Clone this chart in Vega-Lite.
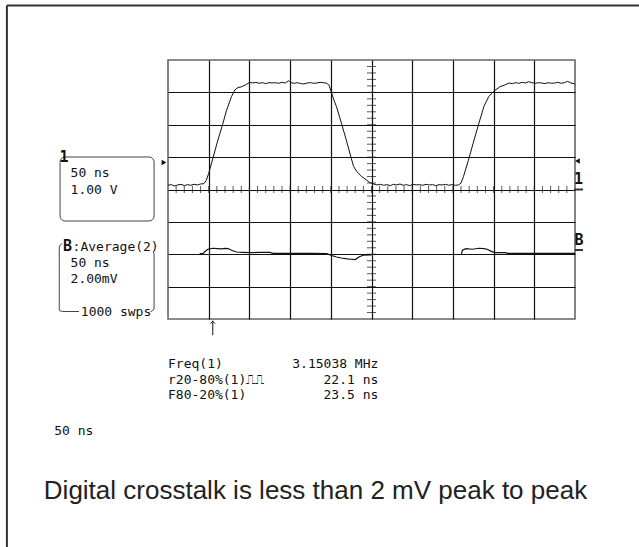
{
  "$schema": "https://vega.github.io/schema/vega-lite/v6.json",
  "width": 407,
  "height": 259,
  "autosize": {"type": "none"},
  "padding": {"left": 168, "top": 60, "right": 64, "bottom": 228},
  "background": "white",
  "config": {
    "view": {"stroke": "#666", "strokeWidth": 1.6},
    "text": {"font": "DejaVu Sans Mono", "fontSize": 13, "fill": "#111"}
  },
  "datasets": {
    "ch1": [
      {"t": -250, "v": 0.13}, {"t": -246, "v": 0.15}, {"t": -242, "v": 0.11}, {"t": -238, "v": 0.14},
      {"t": -234, "v": 0.16}, {"t": -230, "v": 0.12}, {"t": -226, "v": 0.15}, {"t": -222, "v": 0.13},
      {"t": -218, "v": 0.16}, {"t": -214, "v": 0.14}, {"t": -210, "v": 0.17}, {"t": -206, "v": 0.18},
      {"t": -203, "v": 0.28}, {"t": -200, "v": 0.5}, {"t": -195, "v": 0.95}, {"t": -189, "v": 1.5},
      {"t": -183, "v": 2.0}, {"t": -178, "v": 2.45}, {"t": -172, "v": 2.87}, {"t": -168, "v": 3.07},
      {"t": -164, "v": 3.15}, {"t": -160, "v": 3.17}, {"t": -154, "v": 3.24}, {"t": -150, "v": 3.31},
      {"t": -146, "v": 3.29}, {"t": -142, "v": 3.31}, {"t": -138, "v": 3.28}, {"t": -134, "v": 3.3},
      {"t": -130, "v": 3.27}, {"t": -126, "v": 3.3}, {"t": -122, "v": 3.29}, {"t": -118, "v": 3.3},
      {"t": -114, "v": 3.28}, {"t": -110, "v": 3.31}, {"t": -106, "v": 3.29}, {"t": -102, "v": 3.36},
      {"t": -99, "v": 3.3}, {"t": -95, "v": 3.28}, {"t": -91, "v": 3.3}, {"t": -87, "v": 3.27},
      {"t": -83, "v": 3.26}, {"t": -79, "v": 3.29}, {"t": -75, "v": 3.3}, {"t": -71, "v": 3.28},
      {"t": -67, "v": 3.29}, {"t": -63, "v": 3.31}, {"t": -59, "v": 3.3}, {"t": -55, "v": 3.28},
      {"t": -52, "v": 3.22}, {"t": -50, "v": 3.05}, {"t": -46, "v": 2.75}, {"t": -43, "v": 2.56},
      {"t": -37, "v": 2.05}, {"t": -31, "v": 1.53}, {"t": -26, "v": 1.07}, {"t": -22, "v": 0.71},
      {"t": -18, "v": 0.55}, {"t": -12, "v": 0.4}, {"t": -6, "v": 0.29}, {"t": -2, "v": 0.21},
      {"t": 3, "v": 0.17}, {"t": 7, "v": 0.14}, {"t": 11, "v": 0.16}, {"t": 15, "v": 0.13},
      {"t": 19, "v": 0.15}, {"t": 23, "v": 0.12}, {"t": 27, "v": 0.16}, {"t": 31, "v": 0.14},
      {"t": 35, "v": 0.17}, {"t": 39, "v": 0.13}, {"t": 43, "v": 0.15}, {"t": 47, "v": 0.12},
      {"t": 51, "v": 0.16}, {"t": 55, "v": 0.14}, {"t": 59, "v": 0.15}, {"t": 63, "v": 0.13},
      {"t": 67, "v": 0.16}, {"t": 71, "v": 0.14}, {"t": 75, "v": 0.15}, {"t": 79, "v": 0.12},
      {"t": 83, "v": 0.15}, {"t": 87, "v": 0.14}, {"t": 91, "v": 0.16}, {"t": 95, "v": 0.13},
      {"t": 99, "v": 0.15}, {"t": 103, "v": 0.13}, {"t": 107, "v": 0.14}, {"t": 110, "v": 0.2},
      {"t": 113, "v": 0.4}, {"t": 119, "v": 0.9}, {"t": 126, "v": 1.53}, {"t": 132, "v": 2.05},
      {"t": 138, "v": 2.56}, {"t": 144, "v": 2.87}, {"t": 150, "v": 3.03}, {"t": 158, "v": 3.18},
      {"t": 163, "v": 3.22}, {"t": 169, "v": 3.29}, {"t": 173, "v": 3.27}, {"t": 177, "v": 3.3},
      {"t": 181, "v": 3.28}, {"t": 185, "v": 3.31}, {"t": 189, "v": 3.29}, {"t": 193, "v": 3.33},
      {"t": 197, "v": 3.3}, {"t": 201, "v": 3.28}, {"t": 205, "v": 3.3}, {"t": 209, "v": 3.29},
      {"t": 213, "v": 3.27}, {"t": 217, "v": 3.3}, {"t": 221, "v": 3.28}, {"t": 225, "v": 3.29},
      {"t": 229, "v": 3.31}, {"t": 233, "v": 3.28}, {"t": 237, "v": 3.3}, {"t": 241, "v": 3.34},
      {"t": 245, "v": 3.29}, {"t": 249, "v": 3.27}, {"t": 250, "v": 3.24}
    ],
    "chB": [
      {"t": -211, "mv": 0.04, "seg": "a"}, {"t": -207, "mv": 0.05, "seg": "a"}, {"t": -204.5, "mv": 0.17, "seg": "a"},
      {"t": -201, "mv": 0.31, "seg": "a"}, {"t": -195, "mv": 0.37, "seg": "a"}, {"t": -189, "mv": 0.35, "seg": "a"},
      {"t": -184, "mv": 0.33, "seg": "a"}, {"t": -180, "mv": 0.36, "seg": "a"}, {"t": -176, "mv": 0.35, "seg": "a"},
      {"t": -172, "mv": 0.25, "seg": "a"}, {"t": -166, "mv": 0.14, "seg": "a"}, {"t": -158, "mv": 0.12, "seg": "a"},
      {"t": -149, "mv": 0.1, "seg": "a"}, {"t": -139, "mv": 0.11, "seg": "a"}, {"t": -129, "mv": 0.11, "seg": "a"},
      {"t": -125, "mv": 0.12, "seg": "a"}, {"t": -121, "mv": 0.06, "seg": "a"}, {"t": -100, "mv": 0.06, "seg": "a"},
      {"t": -75, "mv": 0.05, "seg": "a"}, {"t": -55, "mv": 0.04, "seg": "a"}, {"t": -50, "mv": -0.06, "seg": "a"},
      {"t": -43, "mv": -0.17, "seg": "a"}, {"t": -37, "mv": -0.23, "seg": "a"}, {"t": -30, "mv": -0.29, "seg": "a"},
      {"t": -25, "mv": -0.31, "seg": "a"}, {"t": -20, "mv": -0.33, "seg": "a"}, {"t": -15, "mv": -0.15, "seg": "a"},
      {"t": -10, "mv": -0.06, "seg": "a"}, {"t": 0, "mv": -0.04, "seg": "a"},
      {"t": 110.5, "mv": 0.02, "seg": "b"}, {"t": 111.7, "mv": 0.25, "seg": "b"}, {"t": 116, "mv": 0.35, "seg": "b"},
      {"t": 124, "mv": 0.31, "seg": "b"}, {"t": 132, "mv": 0.37, "seg": "b"}, {"t": 138, "mv": 0.35, "seg": "b"},
      {"t": 142, "mv": 0.31, "seg": "b"}, {"t": 148, "mv": 0.16, "seg": "b"}, {"t": 152, "mv": 0.1, "seg": "b"},
      {"t": 165, "mv": 0.1, "seg": "b"}, {"t": 167, "mv": 0.06, "seg": "b"}, {"t": 208, "mv": 0.05, "seg": "b"},
      {"t": 250, "mv": 0.05, "seg": "b"}
    ],
    "hticks": [
      {"t": -240}, {"t": -230}, {"t": -220}, {"t": -210}, {"t": -200}, {"t": -190}, {"t": -180}, {"t": -170},
      {"t": -160}, {"t": -150}, {"t": -140}, {"t": -130}, {"t": -120}, {"t": -110}, {"t": -100}, {"t": -90},
      {"t": -80}, {"t": -70}, {"t": -60}, {"t": -50}, {"t": -40}, {"t": -30}, {"t": -20}, {"t": -10},
      {"t": 0}, {"t": 10}, {"t": 20}, {"t": 30}, {"t": 40}, {"t": 50}, {"t": 60}, {"t": 70},
      {"t": 80}, {"t": 90}, {"t": 100}, {"t": 110}, {"t": 120}, {"t": 130}, {"t": 140}, {"t": 150},
      {"t": 160}, {"t": 170}, {"t": 180}, {"t": 190}, {"t": 200}, {"t": 210}, {"t": 220}, {"t": 230}, {"t": 240}
    ],
    "vticks": [
      {"v": -3.8}, {"v": -3.6}, {"v": -3.4}, {"v": -3.2}, {"v": -3.0}, {"v": -2.8}, {"v": -2.6}, {"v": -2.4},
      {"v": -2.2}, {"v": -2.0}, {"v": -1.8}, {"v": -1.6}, {"v": -1.4}, {"v": -1.2}, {"v": -1.0}, {"v": -0.8},
      {"v": -0.6}, {"v": -0.4}, {"v": -0.2}, {"v": 0.2}, {"v": 0.4}, {"v": 0.6}, {"v": 0.8}, {"v": 1.0},
      {"v": 1.2}, {"v": 1.4}, {"v": 1.6}, {"v": 1.8}, {"v": 2.0}, {"v": 2.2}, {"v": 2.4}, {"v": 2.6},
      {"v": 2.8}, {"v": 3.0}, {"v": 3.2}, {"v": 3.4}, {"v": 3.6}, {"v": 3.8}
    ],
    "scopeText": [
      {"t": -369.7, "v": 0.5, "text": "50 ns"},
      {"t": -369.7, "v": -0.01, "text": "1.00 V"},
      {"t": -367.2, "v": -1.78, "text": ":Average(2)"},
      {"t": -369.7, "v": -2.26, "text": "50 ns"},
      {"t": -369.7, "v": -2.77, "text": "2.00mV"},
      {"t": -357.1, "v": -3.77, "text": "1000 swps"},
      {"t": -250, "v": -5.38, "text": "Freq(1)"},
      {"t": -250, "v": -5.87, "text": "r20-80%(1)⎍⎍"},
      {"t": -250, "v": -6.35, "text": "F80-20%(1)"},
      {"t": -389.8, "v": -7.46, "text": "50 ns"}
    ],
    "valueText": [
      {"t": 8.4, "v": -5.38, "text": "3.15038 MHz"},
      {"t": 8.4, "v": -5.87, "text": "22.1 ns"},
      {"t": 8.4, "v": -6.35, "text": "23.5 ns"}
    ],
    "markers": [
      {"t": -377.8, "v": 1.0, "text": "1"},
      {"t": -373.5, "v": -1.75, "text": "B"},
      {"t": 254.3, "v": 0.32, "text": "1"},
      {"t": 254.9, "v": -1.56, "text": "B"}
    ],
    "rules": [
      {"t": -447.9, "v": 5.68, "t2": 329.1, "v2": 5.68},
      {"t": -447.9, "v": 5.68, "t2": -447.9, "v2": -11.04},
      {"t": 248.8, "v": 0, "t2": 259.8, "v2": 0},
      {"t": 250, "v": -1.87, "t2": 259.8, "v2": -1.87}
    ],
    "box2": [
      {"t": -379.9, "v": -1.668, "part": "left", "i": 1},
      {"t": -382.3, "v": -1.714, "part": "left", "i": 2},
      {"t": -383.6, "v": -1.776, "part": "left", "i": 3},
      {"t": -383.6, "v": -3.691, "part": "left", "i": 4},
      {"t": -382.9, "v": -3.747, "part": "left", "i": 5},
      {"t": -379.6, "v": -3.768, "part": "left", "i": 6},
      {"t": -359.3, "v": -3.768, "part": "left", "i": 7},
      {"t": -271.5, "v": -3.768, "part": "right", "i": 1},
      {"t": -269.0, "v": -3.747, "part": "right", "i": 2},
      {"t": -267.1, "v": -3.691, "part": "right", "i": 3},
      {"t": -267.1, "v": -1.992, "part": "right", "i": 4},
      {"t": -268.0, "v": -1.931, "part": "right", "i": 5}
    ],
    "arrow": [
      {"t": -195.0, "v": -4.05, "t2": -195.0, "v2": -4.5}
    ]
  },
  "resolve": {"scale": {"y": "independent"}},
  "layer": [
    {
      "layer": [
        {
          "data": {"name": "ch1"},
          "mark": {"type": "line", "color": "#111", "strokeWidth": 1, "interpolate": "linear"},
          "encoding": {
            "x": {"field": "t", "type": "quantitative", "scale": {"domain": [-250, 250], "nice": false, "zero": false},
                  "axis": {"values": [-200, -150, -100, -50, 0, 50, 100, 150, 200], "grid": true, "gridColor": "#111", "gridWidth": 1.2, "labels": false, "ticks": false, "domain": false, "title": null}},
            "y": {"field": "v", "type": "quantitative", "scale": {"domain": [-4, 4], "nice": false, "zero": false},
                  "axis": {"values": [-3, -2, -1, 0, 1, 2, 3], "grid": true, "gridColor": "#111", "gridWidth": 1.2, "labels": false, "ticks": false, "domain": false, "title": null}}
          }
        },
        {
          "data": {"name": "hticks"},
          "mark": {"type": "tick", "orient": "vertical", "size": 7, "thickness": 1, "color": "#111"},
          "encoding": {
            "x": {"field": "t", "type": "quantitative"},
            "y": {"datum": 0, "type": "quantitative"}
          }
        },
        {
          "data": {"name": "vticks"},
          "mark": {"type": "tick", "orient": "horizontal", "size": 9, "thickness": 1, "color": "#111"},
          "encoding": {
            "x": {"datum": 0, "type": "quantitative"},
            "y": {"field": "v", "type": "quantitative"}
          }
        },
        {
          "data": {"values": [{"t": -382.6, "v": 1.004, "t2": -267.1, "v2": -0.973}]},
          "mark": {"type": "rect", "filled": false, "stroke": "#444", "strokeWidth": 1, "cornerRadius": 5},
          "encoding": {
            "x": {"field": "t", "type": "quantitative"}, "x2": {"field": "t2"},
            "y": {"field": "v", "type": "quantitative"}, "y2": {"field": "v2"}
          }
        },
        {
          "data": {"name": "box2"},
          "mark": {"type": "line", "color": "#444", "strokeWidth": 1},
          "encoding": {
            "x": {"field": "t", "type": "quantitative"},
            "y": {"field": "v", "type": "quantitative"},
            "detail": {"field": "part"},
            "order": {"field": "i"}
          }
        },
        {
          "data": {"name": "rules"},
          "mark": {"type": "rule", "color": "#333", "strokeWidth": 2},
          "encoding": {
            "x": {"field": "t", "type": "quantitative"}, "x2": {"field": "t2"},
            "y": {"field": "v", "type": "quantitative"}, "y2": {"field": "v2"}
          }
        },
        {
          "data": {"name": "arrow"},
          "mark": {"type": "rule", "color": "#111", "strokeWidth": 1},
          "encoding": {
            "x": {"field": "t", "type": "quantitative"}, "x2": {"field": "t2"},
            "y": {"field": "v", "type": "quantitative"}, "y2": {"field": "v2"}
          }
        },
        {
          "data": {"values": [{"t": -195.0, "v": -4.07}]},
          "mark": {"type": "point", "shape": "M-1,1L0,0L1,1", "filled": false, "size": 22, "color": "#111", "strokeWidth": 1, "opacity": 1},
          "encoding": {"x": {"field": "t", "type": "quantitative"}, "y": {"field": "v", "type": "quantitative"}}
        },
        {
          "data": {"values": [{"t": -254.9, "v": 0.834}]},
          "mark": {"type": "point", "shape": "triangle-right", "filled": true, "size": 30, "color": "#111", "opacity": 1},
          "encoding": {"x": {"field": "t", "type": "quantitative"}, "y": {"field": "v", "type": "quantitative"}}
        },
        {
          "data": {"values": [{"t": 253.0, "v": 0.88}]},
          "mark": {"type": "point", "shape": "triangle-left", "filled": true, "size": 30, "color": "#111", "opacity": 1},
          "encoding": {"x": {"field": "t", "type": "quantitative"}, "y": {"field": "v", "type": "quantitative"}}
        },
        {
          "data": {"name": "scopeText"},
          "mark": {"type": "text", "align": "left", "baseline": "middle"},
          "encoding": {
            "x": {"field": "t", "type": "quantitative"},
            "y": {"field": "v", "type": "quantitative"},
            "text": {"field": "text"}
          }
        },
        {
          "data": {"name": "valueText"},
          "mark": {"type": "text", "align": "right", "baseline": "middle"},
          "encoding": {
            "x": {"field": "t", "type": "quantitative"},
            "y": {"field": "v", "type": "quantitative"},
            "text": {"field": "text"}
          }
        },
        {
          "data": {"name": "markers"},
          "mark": {"type": "text", "align": "center", "baseline": "middle", "fontWeight": "bold", "fontSize": 15},
          "encoding": {
            "x": {"field": "t", "type": "quantitative"},
            "y": {"field": "v", "type": "quantitative"},
            "text": {"field": "text"}
          }
        },
        {
          "data": {"values": [{"t": -68.8, "v": -9.575, "text": "Digital crosstalk is less than 2 mV peak to peak"}]},
          "mark": {"type": "text", "align": "center", "baseline": "alphabetic", "font": "Liberation Sans", "fontSize": 26, "fill": "#222"},
          "encoding": {
            "x": {"field": "t", "type": "quantitative"},
            "y": {"field": "v", "type": "quantitative"},
            "text": {"field": "text"}
          }
        }
      ]
    },
    {
      "data": {"name": "chB"},
      "mark": {"type": "line", "color": "#111", "strokeWidth": 1.2},
      "encoding": {
        "x": {"field": "t", "type": "quantitative", "scale": {"domain": [-250, 250], "nice": false, "zero": false}},
        "y": {"field": "mv", "type": "quantitative", "scale": {"domain": [-4, 12], "nice": false, "zero": false}, "axis": null},
        "detail": {"field": "seg"}
      }
    }
  ]
}
